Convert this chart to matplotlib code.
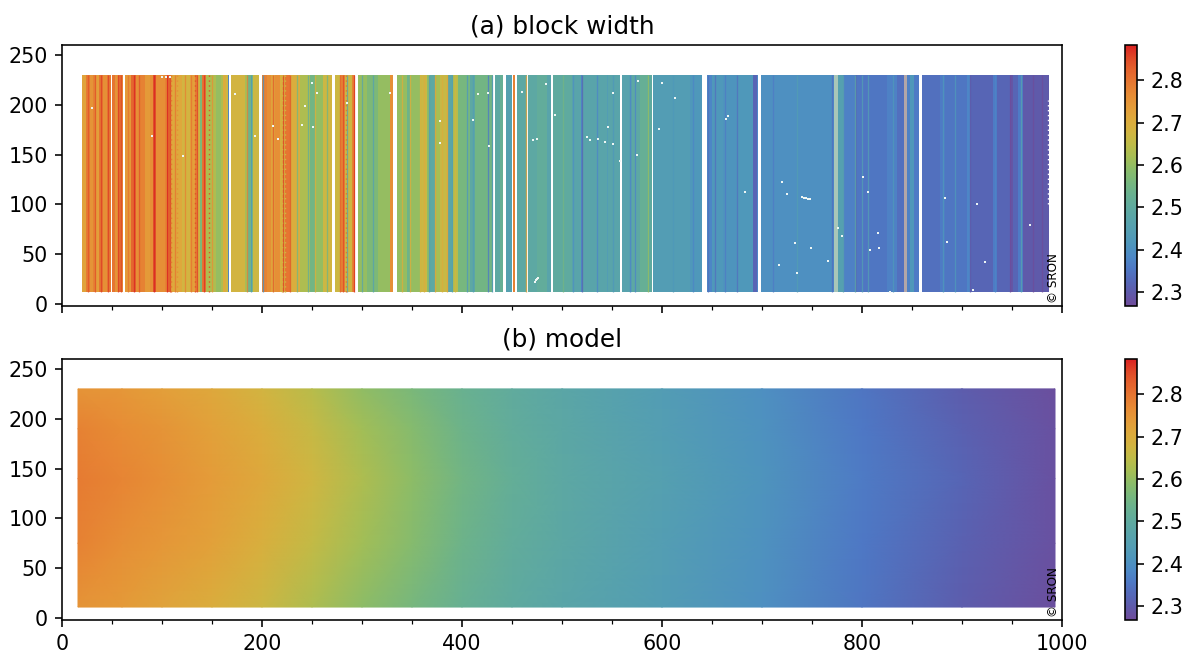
import numpy as np
import matplotlib
matplotlib.use("Agg")
import matplotlib.pyplot as plt
from matplotlib.colors import LinearSegmentedColormap, Normalize
from matplotlib.ticker import MultipleLocator

plt.rcParams.update({'font.size': 10.3})
nan = np.nan

# SRON rainbow colours
rainbow_colors = ['#6F4C9B', '#6059A9', '#5568B8', '#4E79C5', '#4D8AC6', '#4E96BC',
                  '#549EB3', '#59A5A9', '#60AB9E', '#69B190', '#77B77D', '#8CBC68',
                  '#A6BE54', '#BEBC48', '#D1B541', '#DDAA3C', '#E49C39', '#E78C35',
                  '#E67932', '#E4632D', '#DF4828', '#DA2222']

# (a) block width: column where each stripe starts, and its value (nan = no data)
stripe_cols = [20, 24, 28, 31, 34, 37, 41, 45, 49, 50, 53, 56, 60, 61, 63, 69, 74, 78, 83, 88,
               91, 94, 103, 105, 108, 120, 128, 133, 136, 138, 140, 144, 154, 159, 161, 164, 166, 167,
               169, 183, 185, 188, 191, 197, 200, 205, 209, 213, 218, 223, 228, 238, 248, 253, 261, 268, 270,
               273, 278, 283, 290, 293, 296, 305, 316, 328, 331, 335, 345, 348, 358, 365, 368, 373, 378, 386,
               391, 396, 408, 413, 431, 433, 438, 441, 444, 450, 451, 453, 455, 465, 466, 475, 485, 489,
               491, 510, 519, 520, 545, 546, 558, 560, 570, 578, 587, 590, 591, 628, 640, 645, 650, 661, 675,
               691, 695, 696, 699, 770, 772, 776, 781, 793, 795, 825, 835, 842, 845, 848, 852, 857, 860,
               878, 883, 905, 908, 931, 935, 948, 951, 956, 961]
stripe_vals = [2.72, 2.79, 2.75, 2.78, 2.73, 2.80, 2.76, 2.79, nan, 2.80, 2.75, 2.81, 2.77, nan, 2.74, 2.82, 2.76, 2.78, 2.74, 2.76,
               2.84, 2.76, 2.78, 2.82, 2.71, 2.68, 2.73, 2.79, 2.68, 2.57, 2.80, 2.63, 2.60, 2.63, 2.70, 2.67, 2.38, nan,
               2.68, 2.62, 2.54, 2.56, 2.67, nan, 2.78, 2.76, 2.72, 2.76, 2.70, 2.80, 2.70, 2.63, 2.55, 2.60, 2.67, 2.68, nan,
               2.67, 2.78, 2.67, 2.78, nan, 2.60, 2.57, 2.60, 2.76, nan, 2.60, 2.54, 2.60, 2.67, 2.59, 2.49, 2.62, 2.66, 2.48,
               2.64, 2.56, 2.49, 2.55, nan, 2.49, 2.52, nan, 2.45, nan, 2.78, nan, 2.49, nan, 2.49, 2.51, 2.47, nan,
               2.50, 2.47, 2.38, 2.47, 2.44, 2.47, nan, 2.46, 2.49, 2.52, 2.50, nan, 2.44, 2.42, nan, 2.38, 2.42, 2.41, 2.42,
               2.32, 2.38, nan, 2.40, 2.38, nan, 2.45, 2.37, 2.33, 2.35, 2.37, 2.34, nan, 2.37, 2.42, 2.36, nan, 2.34,
               2.36, 2.35, 2.38, 2.32, 2.36, 2.32, 2.29, 2.32, 2.36, 2.30]
stripe_end = 987
block_rows = [12, 230]

# one pixel wide columns on top of the stripes
thin_cols = [26, 33, 39, 46, 56, 59, 66, 72, 77, 92, 105, 108, 113, 123, 129, 135, 142, 150, 185, 189, 201,
             211, 221, 228, 235, 246, 253, 265, 278, 281, 285, 292, 300, 311, 340, 348, 358, 362, 367, 373, 380,
             385, 390, 393, 405, 411, 426, 430, 464, 501, 511, 520, 535, 551, 568, 573, 586, 611, 631,
             646, 653, 663, 675, 711, 735, 770, 781, 793, 800, 806, 831, 881, 893, 908, 933, 948, 959, 971, 980]
thin_vals = [2.84, 2.84, 2.86, 2.86, 2.86, 2.85, 2.80, 2.88, 2.84, 2.88, 2.88, 2.86, 2.80, 2.78, 2.80, 2.85, 2.87, 2.76, 2.78, 2.42, 2.40,
             2.83, 2.86, 2.84, 2.56, 2.52, 2.70, 2.55, 2.82, 2.85, 2.48, 2.87, 2.48, 2.46, 2.70, 2.70, 2.68, 2.70, 2.42, 2.72, 2.70,
             2.72, 2.45, 2.68, 2.42, 2.44, 2.36, 2.42, 2.72, 2.55, 2.40, 2.32, 2.38, 2.42, 2.38, 2.38, 2.60, 2.42, 2.38,
             2.34, 2.34, 2.36, 2.34, 2.36, 2.44, 2.34, 2.46, 2.48, 2.44, 2.44, 2.42, 2.42, 2.42, 2.30, 2.38, 2.27, 2.46, 2.27, 2.27]

# dotted columns
dotted_cols = [109, 115, 133, 147, 220, 223, 284]
dotted_vals = [2.80, 2.76, 2.84, 2.84, 2.68, 2.68, 2.80]

# frayed right edge of the block image
edge_col = 986
edge_rows = [100, 205]

# partly filled columns, drawn pale
pale_cols = [772, 842]
pale_widths = [4, 3]
pale_colors = ['#a9c6b8', '#b3a6a8']

# bad pixels
speck_x = [30, 90, 121, 173, 193, 240, 255, 250, 243, 251, 211, 216, 285, 328,
           100, 104, 108,
           416, 426, 411, 378, 378, 427, 460, 484, 493, 471, 475, 525, 528, 536, 543, 546, 551, 551,
           576, 575, 558, 600, 613, 597, 666, 664,
           720, 725, 683, 733, 749, 717, 766, 735, 801, 806, 816, 817, 808, 883, 915, 885, 923, 968,
           780, 776, 828, 911,
           740, 742, 744, 746, 748, 473, 474, 475, 476]
speck_y = [197, 169, 149, 211, 169, 180, 212, 222, 199, 178, 179, 166, 202, 212,
           228, 228, 228,
           211, 212, 185, 184, 162, 159, 213, 221, 190, 165, 166, 168, 165, 166, 163, 178, 161, 212,
           224, 150, 144, 222, 207, 176, 189, 186,
           122, 110, 112, 61, 56, 39, 43, 31, 127, 112, 71, 56, 54, 106, 100, 62, 42, 79,
           68, 76, 12, 14,
           107, 106, 106, 105, 105, 22, 24, 25, 26]

# (b) model: values on a coarse grid
model_x = [16, 60, 100, 150, 200, 250, 300, 350, 400, 450, 500, 600, 700, 800, 900, 993]
model_y = [11, 75, 140, 190, 230]
model_row_11 = [2.75, 2.74, 2.72, 2.70, 2.67, 2.63, 2.59, 2.56, 2.525, 2.50, 2.475, 2.44, 2.40, 2.35, 2.305, 2.275]
model_row_75 = [2.78, 2.76, 2.745, 2.725, 2.695, 2.655, 2.615, 2.58, 2.54, 2.51, 2.485, 2.445, 2.405, 2.355, 2.315, 2.28]
model_row_140 = [2.79, 2.775, 2.76, 2.735, 2.71, 2.675, 2.63, 2.59, 2.55, 2.515, 2.49, 2.45, 2.41, 2.36, 2.32, 2.28]
model_row_190 = [2.78, 2.765, 2.75, 2.725, 2.70, 2.66, 2.615, 2.58, 2.54, 2.51, 2.485, 2.445, 2.405, 2.355, 2.315, 2.28]
model_row_230 = [2.75, 2.745, 2.73, 2.71, 2.68, 2.64, 2.595, 2.565, 2.53, 2.505, 2.48, 2.44, 2.40, 2.35, 2.305, 2.275]

vmin, vmax = 2.267, 2.883
cbar_ticks = [2.3, 2.4, 2.5, 2.6, 2.7, 2.8]

W, H = 1186, 654
cmap = LinearSegmentedColormap.from_list('rainbow_PuRd', rainbow_colors)
cmap.set_bad((1, 1, 1, 0))
norm = Normalize(vmin, vmax)


def add_panel(top_px, title):
    ax = fig.add_axes([62 / W, 1 - (top_px + 261) / H, 1000 / W, 261 / H])
    ax.set_xlim(0, 1000)
    ax.set_ylim(-2, 260)
    ax.xaxis.set_major_locator(MultipleLocator(200))
    ax.xaxis.set_minor_locator(MultipleLocator(50))
    ax.yaxis.set_major_locator(MultipleLocator(50))
    ax.set_title(title)
    ax.text(0.9915, 0.012, '\u00a9 SRON', transform=ax.transAxes, rotation=90,
            ha='center', va='bottom', fontsize=6.0)
    return ax


def add_cbar(mesh, top_px):
    cax = fig.add_axes([1125 / W, 1 - (top_px + 261) / H, 12 / W, 261 / H])
    cb = fig.colorbar(mesh, cax=cax)
    cb.set_ticks(cbar_ticks)
    cb.ax.set_yticklabels([str(t) for t in cbar_ticks])


fig = plt.figure(figsize=(W / 144, H / 144), dpi=144)

# (a)
ax1 = add_panel(45, '(a) block width')
edges = np.array(stripe_cols + [stripe_end], dtype=float)
vals = np.array(stripe_vals)[np.newaxis, :]
m1 = ax1.pcolormesh(edges, block_rows, vals, cmap=cmap, vmin=vmin, vmax=vmax, rasterized=True)
ax1.vlines(thin_cols, block_rows[0], block_rows[1], colors=cmap(norm(thin_vals)), lw=0.65, alpha=0.8)
ax1.vlines(dotted_cols, block_rows[0], block_rows[1], colors=cmap(norm(dotted_vals)), lw=0.7,
           linestyles=(0, (1, 2.5)))
ax1.vlines(edge_col, edge_rows[0], edge_rows[1], colors='white', lw=0.7, linestyles=(0, (1, 2.5)))
for col, wid, c in zip(pale_cols, pale_widths, pale_colors):
    ax1.fill_between([col, col + wid], block_rows[0], block_rows[1], color=c, lw=0)
ax1.scatter(speck_x, speck_y, s=2.2, marker='s', color='#eef6f4', linewidths=0, zorder=3)
ax1.tick_params(labelbottom=False)
add_cbar(m1, 45)

# (b)
ax2 = add_panel(359, '(b) model')
model = np.array([model_row_11, model_row_75, model_row_140, model_row_190, model_row_230])
m2 = ax2.pcolormesh(model_x, model_y, model, cmap=cmap, vmin=vmin, vmax=vmax,
                    shading='gouraud', rasterized=True)
add_cbar(m2, 359)

fig.savefig('out.png', dpi=144)
